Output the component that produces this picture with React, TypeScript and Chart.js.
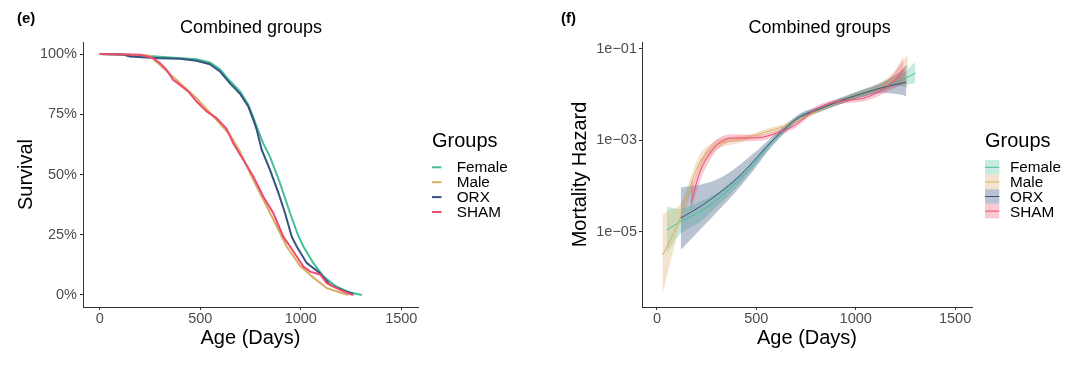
import React, { useEffect, useRef } from 'react';
import { Chart, registerables } from 'chart.js';

Chart.register(...registerables);

const FONT = "'Liberation Sans', Arial, Helvetica, sans-serif";

const groups = ['Female', 'Male', 'ORX', 'SHAM'];
const colors = ['#45BF96', '#D9AE62', '#36527F', '#EC4B72'];
const bandColors = [
  'rgba(69,191,150,0.30)',
  'rgba(217,174,98,0.32)',
  'rgba(54,82,127,0.35)',
  'rgba(236,75,114,0.30)',
];

const xTicks = [0, 500, 1000, 1500];
const survivalTicks = [0, 0.25, 0.5, 0.75, 1];
const hazardTicks = [1e-5, 1e-3, 1e-1];

// ---- Survival (Kaplan-Meier) ----
const femaleSurvDays = [0, 150, 316, 482, 548, 598, 648, 698, 739, 764, 789, 814, 847, 897, 947, 988, 1013, 1063, 1113, 1179, 1246, 1304];
const femaleSurv = [1.0, 0.997, 0.988, 0.978, 0.965, 0.937, 0.888, 0.845, 0.79, 0.737, 0.68, 0.628, 0.573, 0.464, 0.339, 0.245, 0.201, 0.132, 0.076, 0.034, 0.01, 0.0];

const maleSurvDays = [0, 233, 249, 316, 399, 482, 565, 648, 698, 764, 814, 864, 930, 997, 1063, 1130, 1196, 1237];
const maleSurv = [1.0, 0.995, 0.993, 0.942, 0.88, 0.817, 0.741, 0.665, 0.595, 0.477, 0.395, 0.312, 0.201, 0.12, 0.072, 0.028, 0.01, 0.0];

const orxSurvDays = [0, 116, 150, 299, 400, 482, 548, 598, 648, 698, 739, 764, 781, 806, 847, 889, 922, 955, 980, 1030, 1096, 1146, 1212, 1262];
const orxSurv = [1.0, 0.998, 0.99, 0.983, 0.98, 0.972, 0.958, 0.928, 0.878, 0.835, 0.782, 0.728, 0.686, 0.602, 0.519, 0.423, 0.339, 0.242, 0.201, 0.132, 0.09, 0.042, 0.018, 0.004];

const shamSurvDays = [0, 200, 266, 299, 332, 365, 399, 440, 482, 532, 581, 631, 664, 714, 764, 814, 864, 913, 947, 1013, 1047, 1096, 1130, 1196, 1246, 1260];
const shamSurv = [1.0, 0.997, 0.983, 0.963, 0.935, 0.893, 0.872, 0.845, 0.803, 0.762, 0.734, 0.69, 0.63, 0.561, 0.492, 0.408, 0.339, 0.242, 0.201, 0.118, 0.097, 0.085, 0.049, 0.021, 0.004, 0.0];

// ---- Mortality hazard (log10 of hazard) ----
const femaleHazDays = [50, 117, 218, 302, 386, 469, 553, 637, 721, 822, 922, 1023, 1123, 1224, 1300];
const femaleHazLog = [-4.96, -4.78, -4.56, -4.3, -3.98, -3.61, -3.17, -2.8, -2.48, -2.31, -2.15, -2.0, -1.86, -1.7, -1.53];
const femaleHazLoLog = [-5.47, -5.05, -4.78, -4.45, -4.1, -3.69, -3.23, -2.85, -2.53, -2.36, -2.21, -2.07, -1.94, -1.82, -1.74];
const femaleHazHiLog = [-4.45, -4.5, -4.34, -4.15, -3.86, -3.53, -3.11, -2.75, -2.43, -2.26, -2.09, -1.93, -1.78, -1.58, -1.29];

const maleHazDays = [28, 50, 117, 168, 218, 268, 319, 403, 469, 553, 637, 721, 822, 922, 1023, 1123, 1207, 1262];
const maleHazLog = [-5.51, -5.33, -4.7, -4.01, -3.46, -3.21, -3.06, -2.99, -2.92, -2.81, -2.7, -2.54, -2.33, -2.15, -1.98, -1.84, -1.62, -1.38];
const maleHazLoLog = [-6.39, -5.98, -4.85, -4.2, -3.62, -3.34, -3.16, -3.07, -2.98, -2.87, -2.76, -2.59, -2.38, -2.21, -2.05, -1.94, -1.8, -1.86];
const maleHazHiLog = [-4.63, -4.56, -4.4, -3.83, -3.29, -3.08, -2.96, -2.91, -2.86, -2.75, -2.64, -2.49, -2.28, -2.09, -1.91, -1.74, -1.45, -1.12];

const orxHazDays = [120, 218, 302, 386, 469, 553, 637, 721, 822, 922, 1023, 1123, 1224, 1255];
const orxHazLog = [-4.7, -4.45, -4.19, -3.9, -3.54, -3.13, -2.77, -2.48, -2.31, -2.14, -1.99, -1.86, -1.76, -1.73];
const orxHazLoLog = [-5.4, -4.95, -4.57, -4.18, -3.75, -3.27, -2.86, -2.55, -2.37, -2.21, -2.07, -1.97, -2.0, -2.04];
const orxHazHiLog = [-4.03, -3.97, -3.86, -3.64, -3.35, -3.03, -2.7, -2.41, -2.25, -2.07, -1.91, -1.75, -1.5, -1.34];

const shamHazDays = [171, 184, 218, 251, 302, 352, 403, 469, 536, 603, 670, 721, 771, 838, 905, 972, 1040, 1107, 1174, 1224, 1241];
const shamHazLog = [-4.38, -4.16, -3.68, -3.39, -3.1, -2.97, -2.95, -2.95, -2.93, -2.84, -2.73, -2.59, -2.4, -2.24, -2.16, -2.12, -2.08, -1.96, -1.78, -1.55, -1.45];
const shamHazLoLog = [-4.52, -4.36, -3.88, -3.56, -3.22, -3.06, -3.03, -3.02, -3.0, -2.9, -2.79, -2.65, -2.46, -2.3, -2.22, -2.18, -2.15, -2.05, -1.9, -1.8, -1.78];
const shamHazHiLog = [-3.87, -3.9, -3.48, -3.22, -2.98, -2.88, -2.87, -2.88, -2.86, -2.78, -2.67, -2.53, -2.34, -2.18, -2.1, -2.06, -2.01, -1.87, -1.62, -1.3, -1.15];

const survivalSeries = [
  { days: femaleSurvDays, surv: femaleSurv },
  { days: maleSurvDays, surv: maleSurv },
  { days: orxSurvDays, surv: orxSurv },
  { days: shamSurvDays, surv: shamSurv },
];

const hazardSeries = [
  { days: femaleHazDays, mid: femaleHazLog, lo: femaleHazLoLog, hi: femaleHazHiLog },
  { days: maleHazDays, mid: maleHazLog, lo: maleHazLoLog, hi: maleHazHiLog },
  { days: orxHazDays, mid: orxHazLog, lo: orxHazLoLog, hi: orxHazHiLog },
  { days: shamHazDays, mid: shamHazLog, lo: shamHazLoLog, hi: shamHazHiLog },
];

const fromLog = (v: number) => Math.pow(10, v);

function decorPlugin(cfg: {
  label: string;
  labelX: number;
  titleX: number;
  legendX: number;
  textX: number;
  band: boolean;
}) {
  return {
    id: 'decor',
    afterDraw(chart: any) {
      const ctx = chart.ctx as CanvasRenderingContext2D;
      ctx.save();
      ctx.fillStyle = '#000';
      ctx.textBaseline = 'alphabetic';
      ctx.textAlign = 'left';
      ctx.font = `bold 15px ${FONT}`;
      ctx.fillText(cfg.label, cfg.labelX, 23);
      ctx.font = `18px ${FONT}`;
      ctx.textAlign = 'center';
      ctx.fillText('Combined groups', cfg.titleX, 32.5);
      ctx.textAlign = 'left';
      ctx.font = `20px ${FONT}`;
      ctx.fillText('Groups', cfg.legendX, 146.5);
      ctx.font = `15.3px ${FONT}`;
      ctx.textBaseline = 'middle';
      groups.forEach((g, i) => {
        const cy = 167.3 + i * 14.9;
        if (cfg.band) {
          const top = 160 + i * 14.6;
          ctx.fillStyle = bandColors[i];
          ctx.fillRect(cfg.legendX, top, 14.3, 14.6);
          ctx.strokeStyle = colors[i];
          ctx.lineWidth = 1;
          ctx.beginPath();
          ctx.moveTo(cfg.legendX, top + 7.3);
          ctx.lineTo(cfg.legendX + 14.3, top + 7.3);
          ctx.stroke();
        } else {
          ctx.strokeStyle = colors[i];
          ctx.lineWidth = 2;
          ctx.beginPath();
          ctx.moveTo(cfg.legendX, cy);
          ctx.lineTo(cfg.legendX + 9.5, cy);
          ctx.stroke();
        }
        ctx.fillStyle = '#000';
        ctx.fillText(g, cfg.textX, cy + 0.5);
      });
      ctx.restore();
    },
  };
}

function axisBase(min: number, max: number, height: number) {
  return {
    type: 'linear' as const,
    min,
    max,
    afterFit: (s: any) => {
      s.height = height;
    },
    afterBuildTicks: (s: any) => {
      s.ticks = xTicks.map((v) => ({ value: v }));
    },
    grid: { display: true, drawOnChartArea: false, drawTicks: true, tickLength: 3, color: '#333', lineWidth: 1 },
    border: { display: true, color: '#333', width: 1 },
    ticks: {
      color: '#4D4D4D',
      font: { family: FONT, size: 14.5 },
      padding: 0,
      maxRotation: 0,
      autoSkip: false,
      callback: (v: number) => String(v),
    },
    title: {
      display: true,
      text: 'Age (Days)',
      color: '#000',
      font: { family: FONT, size: 20 },
      padding: { top: 0, bottom: 14.5 },
    },
  };
}

function survivalConfig(): any {
  const datasets = survivalSeries.map((s, i) => ({
    label: groups[i],
    data: s.days.map((d, j) => ({ x: d, y: s.surv[j] })),
    borderColor: colors[i],
    borderWidth: 2,
    pointRadius: 0,
    fill: false,
    tension: 0,
    order: 4 - i,
  }));
  return {
    type: 'line',
    data: { datasets },
    options: {
      responsive: false,
      animation: false,
      devicePixelRatio: 1,
      layout: { padding: { left: 0, right: 540 - 418, top: 42, bottom: 0 } },
      plugins: { legend: { display: false }, title: { display: false }, tooltip: { enabled: false } },
      scales: {
        x: axisBase(-83, 1583, 58),
        y: {
          type: 'linear',
          min: -0.05,
          max: 1.05,
          afterFit: (s: any) => {
            s.width = 83;
          },
          afterBuildTicks: (s: any) => {
            s.ticks = survivalTicks.map((v) => ({ value: v }));
          },
          grid: { display: true, drawOnChartArea: false, drawTicks: true, tickLength: 3, color: '#333', lineWidth: 1 },
          border: { display: true, color: '#333', width: 1 },
          ticks: {
            color: '#4D4D4D',
            font: { family: FONT, size: 14.5 },
            padding: 3,
            callback: (v: number) => `${Math.round(v * 100)}%`,
          },
          title: {
            display: true,
            text: 'Survival',
            color: '#000',
            font: { family: FONT, size: 20 },
            padding: { top: 14, bottom: 0 },
          },
        },
      },
    },
    plugins: [decorPlugin({ label: '(e)', labelX: 17, titleX: 251, legendX: 432, textX: 456.7, band: false })],
  };
}

function hazardConfig(): any {
  const datasets: any[] = [];
  hazardSeries.forEach((s, i) => {
    const common = { pointRadius: 0, tension: 0.35, label: groups[i] };
    datasets.push({
      ...common,
      data: s.days.map((d, j) => ({ x: d, y: fromLog(s.hi[j]) })),
      borderColor: 'rgba(0,0,0,0)',
      borderWidth: 0,
      fill: false,
      order: 9 - i,
    });
    datasets.push({
      ...common,
      data: s.days.map((d, j) => ({ x: d, y: fromLog(s.lo[j]) })),
      borderColor: 'rgba(0,0,0,0)',
      borderWidth: 0,
      backgroundColor: bandColors[i],
      fill: '-1',
      order: 9 - i,
    });
    datasets.push({
      ...common,
      data: s.days.map((d, j) => ({ x: d, y: fromLog(s.mid[j]) })),
      borderColor: colors[i],
      borderWidth: 1,
      fill: false,
      order: 4 - i,
    });
  });
  return {
    type: 'line',
    data: { datasets },
    options: {
      responsive: false,
      animation: false,
      devicePixelRatio: 1,
      layout: { padding: { left: 0, right: 540 - 432, top: 42, bottom: 0 } },
      plugins: { legend: { display: false }, title: { display: false }, tooltip: { enabled: false } },
      scales: {
        x: axisBase(-75, 1585, 58),
        y: {
          type: 'logarithmic',
          min: fromLog(-6.645),
          max: fromLog(-0.851),
          afterFit: (s: any) => {
            s.width = 102;
          },
          afterBuildTicks: (s: any) => {
            s.ticks = hazardTicks.map((v) => ({ value: v }));
          },
          grid: { display: true, drawOnChartArea: false, drawTicks: true, tickLength: 3, color: '#333', lineWidth: 1 },
          border: { display: true, color: '#333', width: 1 },
          ticks: {
            color: '#4D4D4D',
            font: { family: FONT, size: 14.5 },
            padding: 2,
            callback: (v: number) => {
              const e = Math.round(Math.log10(v));
              return `1e\u2212${String(Math.abs(e)).padStart(2, '0')}`;
            },
          },
          title: {
            display: true,
            text: 'Mortality Hazard',
            color: '#000',
            font: { family: FONT, size: 20 },
            padding: { top: 28, bottom: 0 },
          },
        },
      },
    },
    plugins: [decorPlugin({ label: '(f)', labelX: 21, titleX: 279.6, legendX: 445, textX: 470, band: true })],
  };
}

function ChartCanvas({ make, left }: { make: () => any; left: number }) {
  const ref = useRef<HTMLCanvasElement>(null);
  useEffect(() => {
    if (!ref.current) return;
    const chart = new Chart(ref.current, make());
    return () => chart.destroy();
  }, [make]);
  return (
    <canvas
      ref={ref}
      width={540}
      height={365}
      style={{ position: 'absolute', left, top: 0, width: 540, height: 365 }}
    />
  );
}

export default function App() {
  return (
    <div style={{ position: 'absolute', left: 0, top: 0, width: 1080, height: 365, background: '#fff', overflow: 'hidden' }}>
      <ChartCanvas make={survivalConfig} left={0} />
      <ChartCanvas make={hazardConfig} left={540} />
    </div>
  );
}
